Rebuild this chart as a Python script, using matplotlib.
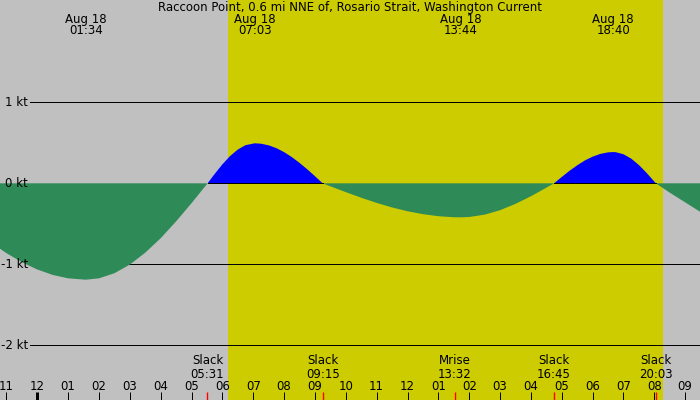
import numpy as np
import matplotlib.pyplot as plt
import matplotlib.transforms as mtransforms

# hours after midnight Aug 18, current in knots (flood +, ebb -)
hours = [-1.5, -1.0, -0.5, 0.0, 0.5, 1.0, 1.57, 2.0, 2.5, 3.0, 3.5, 4.0, 4.5, 5.0,
         5.52, 5.75, 6.0, 6.25, 6.5, 6.75, 7.05, 7.25, 7.5, 7.75, 8.0, 8.25, 8.5,
         8.75, 9.0, 9.25, 9.5, 10.0, 10.5, 11.0, 11.5, 12.0, 12.5, 13.0, 13.5,
         13.73, 14.0, 14.5, 15.0, 15.5, 16.0, 16.5, 16.75, 17.0, 17.25, 17.5,
         17.75, 18.0, 18.25, 18.5, 18.67, 18.75, 19.0, 19.25, 19.5, 19.75, 20.05,
         20.5, 21.0, 21.5]
knots = [-0.732, -0.862, -0.974, -1.064, -1.131, -1.173, -1.19, -1.173, -1.110,
         -1.003, -0.856, -0.678, -0.470, -0.245,
         0.0, 0.116, 0.234, 0.337, 0.417, 0.471, 0.494, 0.489, 0.469, 0.434,
         0.385, 0.324, 0.252, 0.173, 0.088, 0.0,
         -0.037, -0.109, -0.178, -0.242, -0.298, -0.345, -0.381, -0.406, -0.419,
         -0.42, -0.416, -0.387, -0.332, -0.254, -0.160, -0.054, 0.0,
         0.078, 0.154, 0.222, 0.282, 0.329, 0.363, 0.382, 0.386, 0.384, 0.359,
         0.305, 0.226, 0.129, 0.0,
         -0.115, -0.235, -0.355]

sunrise = "06:10"
sunset = "20:17"

peak_times = ["01:34", "07:03", "13:44", "18:40"]
peak_dates = ["Aug 18", "Aug 18", "Aug 18", "Aug 18"]

event_names = ["Slack", "Slack", "Mrise", "Slack", "Slack"]
event_times = ["05:31", "09:15", "13:32", "16:45", "20:03"]

hour_ticks = list(range(-1, 22))
hour_labels = ["11", "12", "01", "02", "03", "04", "05", "06", "07", "08", "09", "10",
               "11", "12", "01", "02", "03", "04", "05", "06", "07", "08", "09"]

kt_levels = [1, 0, -1, -2]
kt_labels = ["1 kt", "0 kt", "-1 kt", "-2 kt"]

title = "Raccoon Point, 0.6 mi NNE of, Rosario Strait, Washington Current"


def to_hours(s):
    hh, mm = s.split(":")
    return int(hh) + int(mm) / 60.0


h = np.array(hours)
v = np.array(knots)

plt.rcParams['font.family'] = 'DejaVu Sans'
plt.rcParams['font.size'] = 8.5

fig = plt.figure(figsize=(7, 4), dpi=100, facecolor='#c0c0c0')
ax = fig.add_axes([0, 0, 1, 1])
ax.axis('off')
ax.set_xlim(-1.209, 21.481)
ax.set_ylim(-2.675, 2.263)

ax.axvspan(to_hours(sunrise), to_hours(sunset), color='#cccc00', lw=0, zorder=0)

px = 0.72  # one pixel in points
for lv in [1, -1, -2]:
    ax.axhline(lv, xmin=30 / 700, xmax=1, color='black', lw=px, zorder=1)

ax.fill_between(h, v, 0, where=v <= 0, interpolate=True, color='#2e8b57', lw=0, zorder=2)
ax.fill_between(h, v, 0, where=v >= 0, interpolate=True, color='#0000ff', lw=0, zorder=2)
ax.plot(h, np.where(v >= 0, 0.0, np.nan), color='black', lw=px, zorder=3)

ytr = mtransforms.blended_transform_factory(ax.transAxes, ax.transData)
for lv, lab in zip(kt_levels, kt_labels):
    ax.text(28 / 700, lv, lab, transform=ytr, ha='right', va='center', zorder=4)

xtr = ax.get_xaxis_transform()
ax.text(0.5, 1 - 8 / 400, title, transform=ax.transAxes, ha='center', va='center')
for d, t in zip(peak_dates, peak_times):
    x = to_hours(t)
    ax.text(x, 1 - 19 / 400, d, transform=xtr, ha='center', va='center')
    ax.text(x, 1 - 31 / 400, t, transform=xtr, ha='center', va='center')

for x, lab in zip(hour_ticks, hour_labels):
    ax.text(x, 1 - 386 / 400, lab, transform=xtr, ha='center', va='center')
    ax.plot([x, x], [0, 8 / 400], transform=xtr, color='black',
            lw=3 * px if x == 0 else px, solid_capstyle='butt', zorder=4)

for n, t in zip(event_names, event_times):
    x = to_hours(t)
    ax.text(x, 1 - 361 / 400, n, transform=xtr, ha='center', va='center')
    ax.text(x, 1 - 374 / 400, t, transform=xtr, ha='center', va='center')
    ax.plot([x, x], [0, 8 / 400], transform=xtr, color='red', lw=1.0,
            solid_capstyle='butt', zorder=5)

fig.savefig('out.png', dpi=100)
